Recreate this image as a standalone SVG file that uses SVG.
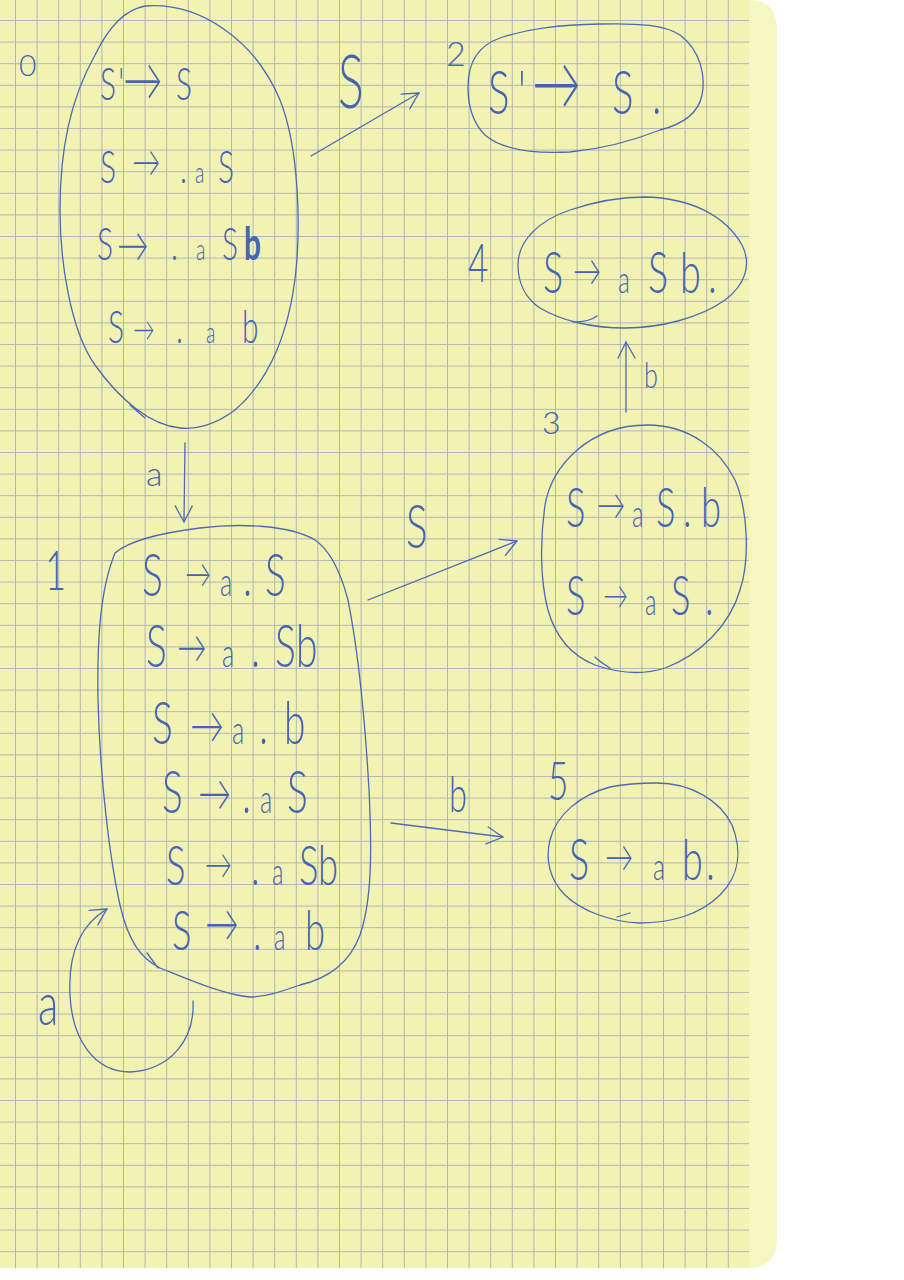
<svg xmlns="http://www.w3.org/2000/svg" width="904" height="1280" viewBox="0 0 904 1280">
<style>
.ink{fill:none;stroke:#4d69b3;stroke-width:1.3;stroke-linecap:round;stroke-linejoin:round}
.t{font-family:Lato,"Liberation Sans",Arial,sans-serif;font-weight:300;fill:#4564b2}
.lc{font-size:0.65em}
.bd{font-weight:bold}
</style>
<defs>
<pattern id="grid" x="15" y="20" width="21.6" height="21.6" patternUnits="userSpaceOnUse">
<path d="M0.5 0V21.6M0 0.5H21.6" stroke="#b3b4b6" stroke-width="1" fill="none"/>
</pattern>
<marker id="ah" viewBox="-20 -14 24 28" refX="0" refY="0" markerWidth="24" markerHeight="28" markerUnits="userSpaceOnUse" orient="auto">
<path d="M-16,-8 L0,0 L-16,9" class="ink"/>
</marker>
</defs>
<rect width="904" height="1280" fill="#ffffff"/>
<path d="M0,0 H748 Q777,0 777,30 V1238 Q777,1268 748,1268 H0 Z" fill="#f6f6c2"/>
<rect x="0" y="0" width="749" height="1268" fill="#f2f3b3"/>
<rect x="0" y="0" width="749" height="1268" fill="url(#grid)"/>

<g id="connectors">
<line class="ink" x1="311" y1="156" x2="419" y2="93" marker-end="url(#ah)"/>
<text class="t" transform="translate(338 108) scale(0.65 1)" font-size="74">S</text>
<line class="ink" x1="185" y1="443" x2="184" y2="522" marker-end="url(#ah)"/>
<text class="t" x="146" y="486" font-size="34">a</text>
<line class="ink" x1="368" y1="600" x2="517" y2="541" marker-end="url(#ah)"/>
<text class="t" transform="translate(406 548) scale(0.65 1)" font-size="62">S</text>
<line class="ink" x1="391" y1="823" x2="503" y2="837" marker-end="url(#ah)"/>
<text class="t" transform="translate(449 812) scale(0.65 1)" font-size="50">b</text>
<line class="ink" x1="626" y1="412" x2="626" y2="342" marker-end="url(#ah)"/>
<text class="t" transform="translate(644 388) scale(0.7 1)" font-size="36">b</text>
<path class="ink" d="M193,1001 C195,1040 170,1070 130,1072 C95,1072 72,1040 70,995 C68,955 80,925 107,909" marker-end="url(#ah)"/>
<text class="t" transform="translate(38 1025) scale(0.7 1)" font-size="60">a</text>
</g>

<g id="state0">
<path class="ink" d="M145,6 C200,2 255,40 280,100 C300,150 300,230 296,270 C290,330 270,380 235,410 C215,425 195,430 180,428 C150,425 120,400 95,365 C70,330 60,260 60,210 C60,150 70,100 95,55 C110,25 125,10 145,6 Z M130,405 L145,418"/>
<text class="t" x="19" y="76" font-size="30">0</text>
<text class="t" transform="translate(100 100) scale(0.65 1)" font-size="46" x="0 28 35.4 116.9" y="0 0 1 0">S'<tspan style="font-size:1.33em">→</tspan>S</text>
<text class="t" transform="translate(100 183) scale(0.65 1)" font-size="46" x="0 49.2 123.1 146.2 181.5" y="0 -6 0 0 0">S<tspan style="font-size:0.95em">→</tspan>.<tspan class="lc">a</tspan>S</text>
<text class="t" transform="translate(97 260) scale(0.65 1)" font-size="46" x="0 30.8 113.8 152.3 192.3 226.2" y="0 2 0 0 0 0">S<tspan style="font-size:1.06em">→</tspan>.<tspan class="lc">a</tspan>S<tspan class="bd">b</tspan></text>
<text class="t" transform="translate(108 343) scale(0.65 1)" font-size="46" x="0 38.5 104.6 150.8 206.2" y="0 -2.5 0 0 0">S<tspan style="font-size:0.72em">→</tspan>.<tspan class="lc">a</tspan>b</text>
</g>

<g id="state2">
<path class="ink" d="M468,87 C468,60 480,45 500,38 C530,28 560,25 600,24 C640,23 665,25 680,35 C700,50 706,75 702,95 C698,115 680,125 660,130 C640,138 610,148 570,152 C530,154 500,148 485,135 C472,122 468,105 468,87 Z"/>
<text class="t" x="446" y="66" font-size="34">2</text>
<text class="t" transform="translate(488 114) scale(0.65 1)" font-size="62" x="0 46.2 67.7 190.8 252.3" y="0 0 -4 0 0">S'<tspan style="font-size:1.22em">→</tspan>S.</text>
</g>

<g id="state4">
<path class="ink" d="M518,265 C518,240 540,220 570,210 C600,200 625,197 645,197 C690,198 725,215 742,245 C752,265 745,285 725,300 C700,318 660,328 625,328 C590,328 560,320 540,308 C525,298 518,282 518,265 Z M573,322 C585,322 592,320 597,316"/>
<text class="t" transform="translate(468 282) scale(0.65 1)" font-size="54">4</text>
<text class="t" transform="translate(543 293) scale(0.65 1)" font-size="58" x="0 46.2 115.4 161.5 210.8 253.8" y="0 -7 0 0 0 0">S<tspan style="font-size:0.75em">→</tspan><tspan class="lc">a</tspan>Sb.</text>
</g>

<g id="state3">
<path class="ink" d="M647,425 C690,425 720,450 735,480 C748,510 750,560 740,590 C730,625 700,655 665,668 C640,676 615,672 595,665 C570,655 555,635 548,610 C540,580 540,540 545,505 C552,465 590,425 647,425 Z M595,657 C600,662 605,665 610,668"/>
<text class="t" x="542" y="434" font-size="32">3</text>
<text class="t" transform="translate(566 527) scale(0.65 1)" font-size="56" x="0 47.7 101.5 138.5 180 207.7" y="0 -7 0 0 0 0">S<tspan style="font-size:0.78em">→</tspan><tspan class="lc">a</tspan>S.b</text>
<text class="t" transform="translate(566 615) scale(0.65 1)" font-size="56" x="0 56.9 121.5 161.5 213.8" y="0 -6 0 0 0">S<tspan style="font-size:0.69em">→</tspan><tspan class="lc">a</tspan>S.</text>
</g>

<g id="state5">
<path class="ink" d="M657,783 C690,783 720,800 732,825 C742,850 740,875 720,895 C700,915 670,923 640,923 C610,922 580,910 565,895 C550,880 545,860 550,840 C556,815 580,795 610,787 C625,784 640,783 657,783 Z M617,917 L630,913"/>
<text class="t" transform="translate(548 800) scale(0.65 1)" font-size="54">5</text>
<text class="t" transform="translate(569 880) scale(0.65 1)" font-size="58" x="0 55.4 129.2 173.8 210.8" y="0 -8 0 0 0">S<tspan style="font-size:0.75em">→</tspan><tspan class="lc">a</tspan>b.</text>
</g>

<g id="state1">
<path class="ink" d="M115,553 C130,540 160,533 200,528 C240,523 290,525 315,540 C330,550 340,570 348,600 C358,650 365,720 369,790 C372,850 372,900 360,935 C350,962 330,978 300,985 C280,992 265,997 250,997 C225,995 190,980 160,968 C140,958 128,940 120,905 C110,860 100,780 98,700 C97,640 100,590 115,553 Z M147,953 L158,968"/>
<text class="t" transform="translate(45 590) scale(0.65 1)" font-size="56">1</text>
<text class="t" transform="translate(142 596) scale(0.65 1)" font-size="60" x="0 66.2 120 155.4 189.2" y="0 -8 0 0 0">S<tspan style="font-size:0.67em">→</tspan><tspan class="lc">a</tspan>.S</text>
<text class="t" transform="translate(146 667) scale(0.65 1)" font-size="60" x="0 47.7 116.9 161.5 198.5 230.8" y="0 -4 0 0 0 0">S<tspan style="font-size:0.76em">→</tspan><tspan class="lc">a</tspan>.Sb</text>
<text class="t" transform="translate(152 744) scale(0.65 1)" font-size="60" x="0 58.5 123.1 164.6 203.1" y="0 0 0 0 0">S<tspan style="font-size:0.87em">→</tspan><tspan class="lc">a</tspan>.b</text>
<text class="t" transform="translate(162 813) scale(0.65 1)" font-size="60" x="0 55.4 123.1 150.8 192.3" y="0 -2 0 0 0">S<tspan style="font-size:0.85em">→</tspan>.<tspan class="lc">a</tspan>S</text>
<text class="t" transform="translate(166 885) scale(0.65 1)" font-size="56" x="0 59.5 130.8 163.1 204.6 233.8" y="0 -6 0 0 0 0">S<tspan style="font-size:0.75em">→</tspan>.<tspan class="lc">a</tspan>Sb</text>
<text class="t" transform="translate(172 950) scale(0.65 1)" font-size="56" x="0 50.8 124.6 156.9 204.6" y="0 -8 0 0 0">S<tspan style="font-size:0.93em">→</tspan>.<tspan class="lc">a</tspan>b</text>
</g>
</svg>
